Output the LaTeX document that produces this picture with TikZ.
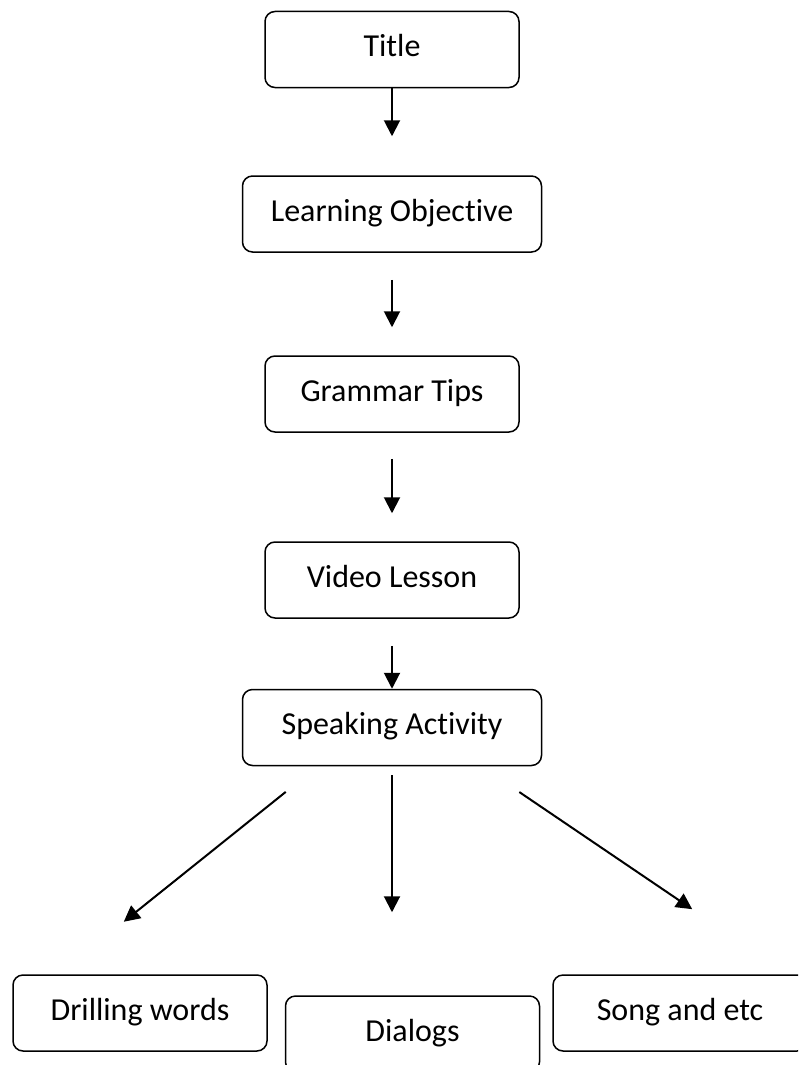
\documentclass[tikz,border=0pt]{standalone}
\usepackage{fontspec}
\setmainfont{Carlito}[Ligatures=NoCommon]
\usetikzlibrary{arrows.meta,calc}
\tikzset{
  stepbox/.style={draw, line width=1.5pt, rounded corners=10pt, minimum width=254pt, minimum height=76pt,
    inner sep=0pt, text height=20pt, text depth=6pt, font=\fontsize{32}{38}\selectfont},
  widebox/.style={stepbox, minimum width=299pt},
  arr/.style={line width=2pt, -{Triangle[length=16pt,width=16pt]}}
}
\begin{document}
\begin{tikzpicture}[x=1pt,y=-1pt]
  %%%%% START %%%%%
  \useasboundingbox (0,0) rectangle (798,1065);
  \clip (0,0) rectangle (798,1065);

  \node[stepbox] (title) at (392,49.5) {Title};
  \node[widebox] (learn) at (392,214) {Learning Objective\hspace{8pt}};
  \node[stepbox] (grammar) at (392,394) {Grammar Tips};
  \node[stepbox] (video) at (392,580) {Video Lesson};
  \node[widebox] (speak) at (392,727.5) {Speaking Activity};

  \node[stepbox] (drill) at (140,1013) {Drilling words};
  \node[stepbox] (dialog) at (412.5,1034) {Dialogs};
  \node[stepbox] (song) at (680,1013) {Song and etc};

  \draw[arr, shorten >=39pt] (title.south) -- (title.south |- learn.north);
  \draw[arr, shorten <=27pt, shorten >=28pt] (learn.south) -- (learn.south |- grammar.north);
  \draw[arr, shorten <=26pt, shorten >=28pt] (grammar.south) -- (grammar.south |- video.north);
  \draw[arr, shorten <=27pt] (video.south) -- (video.south |- speak.north);

  \draw[arr, shorten <=41pt, shorten >=84pt] ($(speak.south west)+(76,0)$) -- ($(drill.north west)+(46,0)$);
  \draw[arr, shorten <=9pt, shorten >=83pt] (speak.south) -- (speak.south |- dialog.north);
  \draw[arr, shorten <=46pt, shorten >=116pt] ($(speak.south east)+(-61,0)$) -- ($(song.north west)+(236,0)$);
  %%%%% END %%%%%
\end{tikzpicture}
\end{document}
